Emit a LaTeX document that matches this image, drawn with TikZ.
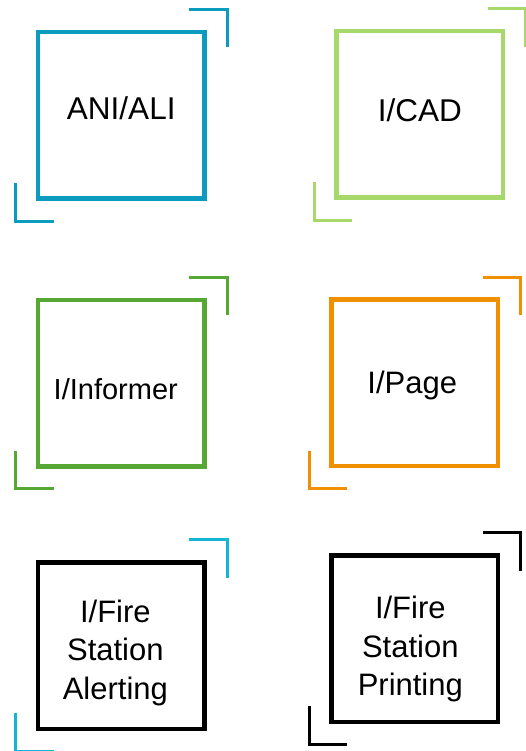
\documentclass[tikz,border=0pt]{standalone}
\usepackage{fontspec}
\setmainfont{Liberation Sans}
\usepackage{tikz}

\definecolor{aliblue}{RGB}{10,155,190}
\definecolor{cadgreen}{RGB}{166,217,106}
\definecolor{infgreen}{RGB}{87,167,52}
\definecolor{pageorange}{RGB}{240,143,0}
\definecolor{firecyan}{RGB}{20,180,212}

\begin{document}
\begin{tikzpicture}[x=1pt,y=-1pt,
 box/.style={draw,line width=4.5pt,minimum width=166.5pt,minimum height=166.5pt,inner sep=0pt,outer sep=0pt},
 brk/.style={line width=3pt},
 lbl/.style={font=\fontsize{31}{38.5}\selectfont,align=center,inner sep=0pt}]
 \useasboundingbox (0,0) rectangle (526,751);

 \node [box,draw=aliblue] (A) at (121.25,115.25) {};
 \node [box,draw=cadgreen] (B) at (419.75,114.5) {};
 \node [box,draw=infgreen] (C) at (121.25,383) {};
 \node [box,draw=pageorange] (D) at (414.8,382.85) {};
 \node [box,draw=black] (E) at (121.35,645.5) {};
 \node [box,draw=black] (F) at (414.8,638.65) {};

 \node [lbl,anchor=base,font=\fontsize{31.5}{38}\selectfont] (A1) at ([yshift=-4.5pt]A.center) {ANI/ALI};
 \node [lbl,anchor=base,font=\fontsize{31.5}{38}\selectfont] (B1) at ([yshift=-7pt]B.center) {I/CAD};
 \node [lbl,anchor=base,font=\fontsize{29}{37}\selectfont] (C1) at ([shift={(-5.5pt,-16.3pt)}]C.center) {I/Informer};
 \node [lbl,anchor=base] (D1) at ([shift={(-2.5pt,-11pt)}]D.center) {I/Page};
 \node [lbl] (E1) at ([shift={(-6pt,-7pt)}]E.center) {I/Fire\\Station\\Alerting};
 \node [lbl] (F1) at ([shift={(-4.5pt,-10.5pt)}]F.center) {I/Fire\\Station\\Printing};

 \draw[brk,aliblue] ([shift={(-15.5,-22.5)}]A.north east) -- ++(38,0) -- ++(0,38);
 \draw[brk,aliblue] ([shift={(-22.5,-15.5)}]A.south west) -- ++(0,38) -- ++(38,0);
 \draw[brk,cadgreen] ([shift={(-15.5,-22.5)}]B.north east) -- ++(38,0) -- ++(0,38);
 \draw[brk,cadgreen] ([shift={(-22.5,-15.5)}]B.south west) -- ++(0,38) -- ++(38,0);
 \draw[brk,infgreen] ([shift={(-15.5,-22.5)}]C.north east) -- ++(38,0) -- ++(0,38);
 \draw[brk,infgreen] ([shift={(-22.5,-15.5)}]C.south west) -- ++(0,38) -- ++(38,0);
 \draw[brk,pageorange] ([shift={(-15.5,-22.5)}]D.north east) -- ++(38,0) -- ++(0,38);
 \draw[brk,pageorange] ([shift={(-22.5,-15.5)}]D.south west) -- ++(0,38) -- ++(38,0);
 \draw[brk,firecyan] ([shift={(-15.5,-22.5)}]E.north east) -- ++(38,0) -- ++(0,38);
 \draw[brk,firecyan] ([shift={(-22.5,-15.5)}]E.south west) -- ++(0,38) -- ++(38,0);
 \draw[brk,black] ([shift={(-15.5,-22.5)}]F.north east) -- ++(38,0) -- ++(0,38);
 \draw[brk,black] ([shift={(-22.5,-15.5)}]F.south west) -- ++(0,38) -- ++(38,0);

\end{tikzpicture}
\end{document}
